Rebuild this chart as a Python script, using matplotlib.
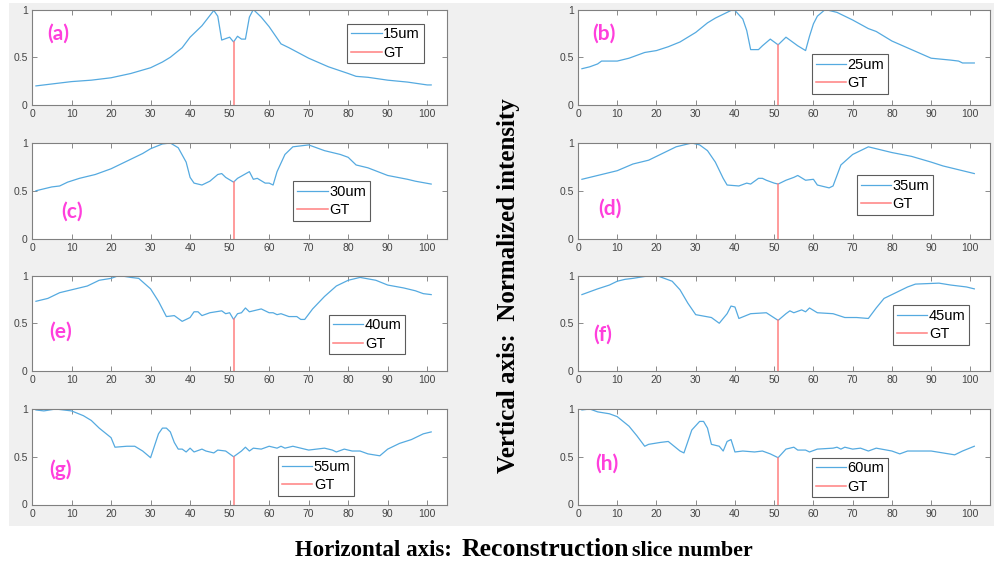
import numpy as np
import matplotlib.pyplot as plt

# slice numbers / normalized intensity
x_a = [1, 5, 10, 15, 20, 25, 30, 33, 35, 38, 40, 43, 46, 47, 48, 50, 51, 52, 53, 54, 55, 56, 58, 60, 63, 65, 70, 75, 80, 82, 85, 90, 95, 100, 101]
y_a = [0.20, 0.22, 0.245, 0.26, 0.285, 0.33, 0.39, 0.45, 0.50, 0.60, 0.71, 0.83, 0.99, 0.93, 0.68, 0.71, 0.66, 0.72, 0.69, 0.69, 0.92, 1.0, 0.92, 0.82, 0.64, 0.60, 0.49, 0.40, 0.33, 0.30, 0.29, 0.26, 0.24, 0.21, 0.21]

x_b = [1, 3, 5, 6, 10, 13, 17, 20, 23, 26, 30, 33, 35, 38, 39, 40, 42, 43, 44, 46, 47, 49, 51, 53, 56, 58, 59, 60, 61, 63, 66, 70, 74, 76, 80, 85, 90, 95, 97, 98, 101]
y_b = [0.38, 0.40, 0.43, 0.46, 0.46, 0.49, 0.55, 0.57, 0.61, 0.66, 0.76, 0.86, 0.91, 0.97, 0.99, 0.99, 0.90, 0.78, 0.58, 0.58, 0.62, 0.69, 0.63, 0.71, 0.62, 0.57, 0.72, 0.85, 0.93, 1.0, 0.97, 0.89, 0.80, 0.77, 0.67, 0.58, 0.49, 0.47, 0.46, 0.44, 0.44]

x_c = [1, 5, 7, 9, 12, 16, 20, 24, 28, 30, 33, 35, 37, 39, 40, 41, 43, 45, 47, 48, 49, 51, 52, 55, 56, 57, 59, 60, 61, 62, 64, 66, 70, 74, 78, 80, 82, 85, 90, 95, 97, 101]
y_c = [0.50, 0.54, 0.55, 0.59, 0.63, 0.67, 0.73, 0.81, 0.89, 0.94, 0.99, 1.0, 0.95, 0.80, 0.64, 0.58, 0.56, 0.60, 0.67, 0.68, 0.64, 0.59, 0.63, 0.70, 0.62, 0.63, 0.58, 0.58, 0.56, 0.70, 0.88, 0.96, 0.98, 0.92, 0.88, 0.85, 0.77, 0.74, 0.66, 0.62, 0.60, 0.57]

x_d = [1, 4, 7, 10, 14, 18, 21, 25, 29, 31, 33, 35, 37, 38, 41, 43, 44, 46, 47, 48, 50, 51, 53, 55, 56, 58, 60, 61, 64, 65, 67, 70, 74, 77, 80, 85, 90, 93, 97, 101]
y_d = [0.62, 0.65, 0.68, 0.71, 0.78, 0.82, 0.88, 0.96, 1.0, 0.98, 0.92, 0.80, 0.63, 0.56, 0.55, 0.58, 0.57, 0.63, 0.63, 0.61, 0.58, 0.57, 0.61, 0.64, 0.66, 0.61, 0.62, 0.56, 0.53, 0.55, 0.77, 0.88, 0.96, 0.93, 0.90, 0.86, 0.80, 0.76, 0.72, 0.68]

x_e = [1, 4, 7, 10, 14, 17, 20, 22, 25, 27, 30, 32, 34, 36, 38, 40, 41, 42, 43, 45, 48, 49, 50, 51, 52, 53, 54, 55, 58, 60, 61, 62, 63, 65, 67, 68, 69, 71, 74, 77, 80, 83, 87, 90, 94, 97, 99, 101]
y_e = [0.73, 0.76, 0.82, 0.85, 0.89, 0.95, 0.97, 1.0, 0.98, 0.97, 0.86, 0.73, 0.57, 0.58, 0.52, 0.56, 0.62, 0.62, 0.58, 0.61, 0.63, 0.60, 0.61, 0.54, 0.60, 0.61, 0.66, 0.62, 0.65, 0.61, 0.61, 0.59, 0.60, 0.57, 0.57, 0.54, 0.54, 0.65, 0.78, 0.89, 0.95, 0.98, 0.95, 0.90, 0.87, 0.84, 0.81, 0.80]

x_f = [1, 5, 8, 10, 12, 14, 17, 20, 24, 26, 28, 30, 34, 36, 38, 39, 40, 41, 44, 48, 51, 53, 54, 55, 57, 58, 59, 61, 65, 68, 71, 74, 76, 78, 82, 84, 86, 92, 95, 99, 101]
y_f = [0.80, 0.86, 0.90, 0.94, 0.96, 0.97, 0.99, 1.0, 0.94, 0.85, 0.71, 0.59, 0.56, 0.50, 0.60, 0.68, 0.67, 0.55, 0.60, 0.61, 0.53, 0.60, 0.63, 0.61, 0.64, 0.62, 0.66, 0.61, 0.60, 0.56, 0.56, 0.55, 0.66, 0.76, 0.84, 0.88, 0.91, 0.92, 0.90, 0.88, 0.86]

x_g = [1, 3, 6, 10, 13, 15, 17, 20, 21, 24, 26, 28, 30, 32, 33, 34, 35, 36, 37, 38, 39, 40, 41, 43, 44, 46, 47, 49, 51, 53, 54, 55, 56, 58, 60, 62, 63, 64, 66, 68, 70, 74, 76, 77, 79, 81, 83, 85, 88, 90, 93, 96, 99, 101]
y_g = [0.99, 0.98, 1.0, 0.98, 0.93, 0.88, 0.80, 0.70, 0.60, 0.61, 0.61, 0.56, 0.49, 0.74, 0.80, 0.80, 0.76, 0.65, 0.58, 0.58, 0.55, 0.59, 0.55, 0.58, 0.56, 0.54, 0.57, 0.56, 0.50, 0.56, 0.60, 0.56, 0.59, 0.58, 0.61, 0.59, 0.61, 0.59, 0.61, 0.59, 0.57, 0.59, 0.57, 0.55, 0.58, 0.56, 0.56, 0.53, 0.51, 0.58, 0.64, 0.68, 0.74, 0.76]

x_h = [1, 3, 5, 8, 10, 13, 15, 17, 18, 21, 23, 26, 27, 28, 29, 31, 32, 33, 34, 36, 37, 38, 39, 40, 42, 45, 47, 49, 51, 53, 55, 56, 58, 59, 61, 65, 66, 67, 68, 70, 72, 74, 76, 80, 82, 84, 90, 93, 96, 98, 101]
y_h = [0.99, 1.0, 0.97, 0.95, 0.92, 0.82, 0.72, 0.61, 0.63, 0.65, 0.66, 0.56, 0.54, 0.66, 0.78, 0.87, 0.87, 0.80, 0.63, 0.61, 0.56, 0.66, 0.68, 0.55, 0.56, 0.55, 0.56, 0.53, 0.49, 0.58, 0.60, 0.57, 0.57, 0.55, 0.58, 0.59, 0.60, 0.58, 0.60, 0.58, 0.59, 0.56, 0.59, 0.56, 0.53, 0.56, 0.56, 0.54, 0.52, 0.56, 0.61]

panel_x = [x_a, x_b, x_c, x_d, x_e, x_f, x_g, x_h]
panel_y = [y_a, y_b, y_c, y_d, y_e, y_f, y_g, y_h]
panel_tags = ['(a)', '(b)', '(c)', '(d)', '(e)', '(f)', '(g)', '(h)']
series_names = ['15um', '25um', '30um', '35um', '40um', '45um', '55um', '60um']
gt_slice = 51

# layout (axes fractions)
tag_pos = [(0.036, 0.75), (0.034, 0.75), (0.07, 0.28), (0.049, 0.31),
           (0.041, 0.41), (0.036, 0.38), (0.041, 0.36), (0.041, 0.43)]
legend_pos = [(0.76, 0.85), (0.568, 0.53), (0.63, 0.60), (0.677, 0.66),
              (0.716, 0.59), (0.765, 0.69), (0.593, 0.505), (0.568, 0.49)]

W, H = 994, 565
fig = plt.figure(figsize=(9.94, 5.65), dpi=100)
fig.patch.set_facecolor('white')

# grey MATLAB figure background behind the panels
bg = fig.add_axes([9 / W, 1 - 526 / H, 1 - 9 / W, (526 - 3) / H], zorder=-10)
bg.set_facecolor('#f0f0f0')
bg.set_xticks([])
bg.set_yticks([])
for sp in bg.spines.values():
    sp.set_visible(False)

col_left = [32, 578]
col_width = [415, 412]
row_top = [9.5, 143, 275.5, 409]
ax_h = 95.5

blue = '#55aae0'
red = '#ff8080'

for i in range(8):
    r, c = divmod(i, 2)
    rect = [col_left[c] / W, 1 - (row_top[r] + ax_h) / H, col_width[c] / W, ax_h / H]
    ax = fig.add_axes(rect)
    xs, ys = panel_x[i], panel_y[i]
    ax.plot(xs, ys, color=blue, lw=0.9, label=series_names[i])
    gt_top = ys[xs.index(gt_slice)]
    ax.plot([gt_slice, gt_slice], [0, gt_top], color=red, lw=1.1, label='GT')

    ax.set_xlim(0, 105)
    ax.set_ylim(0, 1)
    ax.set_xticks(np.arange(0, 101, 10))
    ax.set_yticks([0, 0.5, 1])
    ax.set_yticklabels(['0', '0.5', '1'])
    ax.tick_params(direction='in', top=True, right=True, length=3.5, width=0.6,
                   labelsize=7.5, colors='#777777', labelcolor='#444444', pad=3)
    for lab in ax.get_xticklabels() + ax.get_yticklabels():
        lab.set_family('Liberation Sans')
    for sp in ax.spines.values():
        sp.set_color('#808080')
        sp.set_linewidth(0.8)

    ax.text(tag_pos[i][0], tag_pos[i][1], panel_tags[i], transform=ax.transAxes,
            ha='left', va='center', color='#ff3fdc', fontsize=15,
            fontweight='bold', family='Lato')

    leg = ax.legend(loc='upper left', bbox_to_anchor=legend_pos[i], borderaxespad=0,
                    frameon=True, fancybox=False, handlelength=2.1, handletextpad=0.1,
                    borderpad=0.25, labelspacing=0.3,
                    prop={'family': 'Liberation Sans', 'size': 10.5})
    leg.get_frame().set_edgecolor('#333333')
    leg.get_frame().set_linewidth(0.8)

# axis captions
serif = 'Liberation Serif'
fig.text(508 / W, 1 - 286 / H, 'Vertical axis:  Normalized intensity', rotation=90,
         ha='center', va='center', fontsize=18, fontweight='bold', family=serif)

base_y = 1 - 556 / H
fig.text(295 / W, base_y, 'Horizontal axis:', ha='left', va='baseline',
         fontsize=16.5, fontweight='bold', family=serif)
fig.text(462 / W, base_y, 'Reconstruction', ha='left', va='baseline',
         fontsize=18.5, fontweight='bold', family=serif)
fig.text(632 / W, base_y, 'slice number', ha='left', va='baseline',
         fontsize=15.8, fontweight='bold', family=serif)

fig.savefig('out.png', dpi=100, facecolor=fig.get_facecolor())
